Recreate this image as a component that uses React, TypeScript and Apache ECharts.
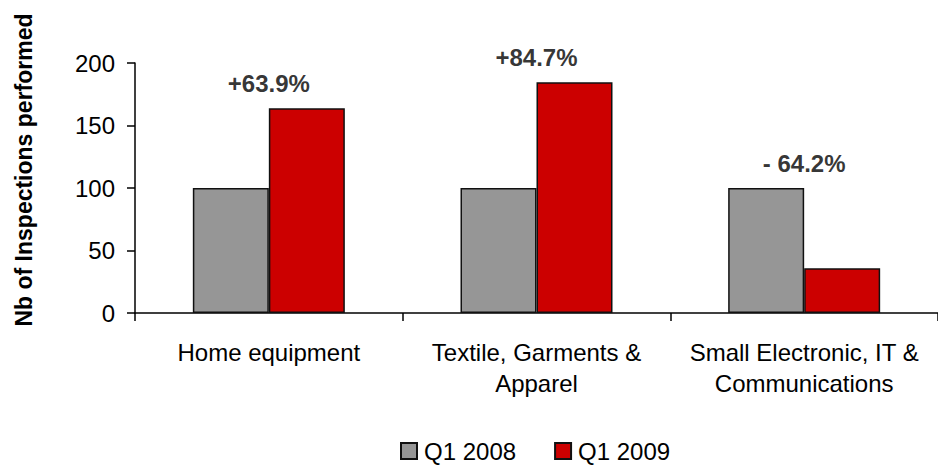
import React, { useEffect, useRef } from "react";
import * as echarts from "echarts";

const categories = [
  "Home equipment",
  "Textile, Garments &\nApparel",
  "Small Electronic, IT &\nCommunications",
];
const q12008 = [100, 100, 100];
const q12009 = [163.9, 184.7, 35.8];
const changeLabels = ["+63.9%", "+84.7%", "- 64.2%"];
const yTicks = [0, 50, 100, 150, 200];
const seriesNames = ["Q1 2008", "Q1 2009"];

const FONT = "'Liberation Sans', Arial, sans-serif";

export default function App() {
  const ref = useRef<HTMLDivElement>(null);
  useEffect(() => {
    if (!ref.current) return;
    const chart = echarts.init(ref.current, undefined, { renderer: "svg" });
    const labelTops = q12008.map((v, i) => Math.max(v, q12009[i]));
    chart.setOption({
      animation: false,
      backgroundColor: "#ffffff",
      textStyle: { fontFamily: FONT },
      grid: { left: 135, top: 63, bottom: 153, right: -7, containLabel: false },
      legend: {
        data: seriesNames,
        left: 400,
        top: 438,
        itemWidth: 16,
        itemHeight: 16,
        itemGap: 38,
        icon: "rect",
        padding: 0,
        textStyle: { fontSize: 24, lineHeight: 26, color: "#000", fontFamily: FONT, padding: [0, 0, 0, 2] },
      },
      graphic: [
        {
          type: "text",
          x: 24,
          y: 170,
          rotation: Math.PI / 2,
          style: {
            text: "Nb of Inspections performed",
            fontSize: 23,
            fontWeight: "bold",
            fontFamily: FONT,
            fill: "#000",
            align: "center",
            verticalAlign: "middle",
          },
        },
      ],
      xAxis: {
        type: "category",
        data: categories,
        axisLine: { lineStyle: { color: "#000", width: 1.5 } },
        axisTick: { show: true, length: 8, lineStyle: { color: "#000", width: 1.5 } },
        axisLabel: {
          interval: 0,
          fontSize: 24,
          lineHeight: 31,
          margin: 24,
          color: "#000",
          fontFamily: FONT,
        },
      },
      yAxis: {
        type: "value",
        min: yTicks[0],
        max: yTicks[yTicks.length - 1],
        interval: 50,
        splitLine: { show: false },
        axisLine: { show: true, lineStyle: { color: "#000", width: 1.5 } },
        axisTick: { show: true, length: 8, lineStyle: { color: "#000", width: 1.5 } },
        axisLabel: { fontSize: 24, color: "#000", margin: 20, fontFamily: FONT },
      },
      series: [
        {
          name: seriesNames[0],
          type: "bar",
          data: q12008,
          barWidth: 76,
          barGap: "0%",
          itemStyle: { color: "#969696", borderColor: "#111", borderWidth: 1.5 },
        },
        {
          name: seriesNames[1],
          type: "bar",
          data: q12009,
          barWidth: 76,
          barGap: "0%",
          itemStyle: { color: "#CC0000", borderColor: "#111", borderWidth: 1.5 },
        },
        {
          name: "change",
          type: "scatter",
          data: labelTops,
          symbolSize: 1,
          itemStyle: { color: "rgba(0,0,0,0)" },
          silent: true,
          z: 10,
          label: {
            show: true,
            position: "top",
            distance: 12,
            formatter: (p: any) => changeLabels[p.dataIndex],
            fontSize: 24,
            fontWeight: "bold",
            color: "#000",
            fontFamily: FONT,
          },
        },
      ],
    });
    return () => chart.dispose();
  }, []);
  return (
    <div
      ref={ref}
      style={{ position: "fixed", left: 0, top: 0, width: 938, height: 466 }}
    />
  );
}
